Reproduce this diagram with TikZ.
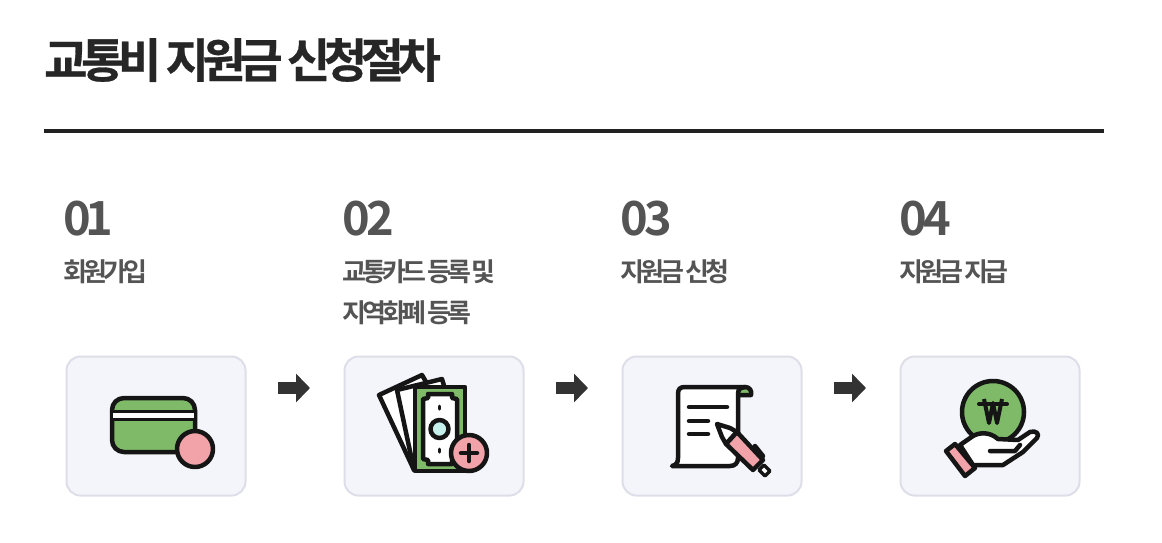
\documentclass[tikz,border=0pt]{standalone}
\usepackage{fontspec}
\usepackage{xcolor}
\usetikzlibrary{arrows.meta}
\newfontfamily\titlefont[LetterSpace=-13.5,FakeBold=0.6]{Noto Sans CJK KR Bold}
\newfontfamily\numfont[LetterSpace=-7]{Noto Sans CJK KR Bold}
\newfontfamily\labelfont[LetterSpace=-15,WordSpace=0.45]{Noto Sans CJK KR Bold}
\definecolor{cardgreen}{HTML}{7FBA68}
\definecolor{cardpink}{HTML}{F2A2A9}
\definecolor{boxfill}{HTML}{F4F5FB}
\definecolor{boxline}{HTML}{DDDEE8}
\definecolor{inkblack}{HTML}{151515}
\definecolor{coinmint}{HTML}{C5F0EC}
\tikzset{>=latex,
  stepbox/.style={draw=boxline, fill=boxfill, line width=2pt, rounded corners=14pt, minimum width=179pt, minimum height=139pt},
  stepnum/.style={anchor=west, inner sep=0pt, text=black!67, font=\numfont\fontsize{47}{47}\selectfont},
  steplabel/.style={anchor=west, inner sep=0pt, text=black!67, font=\labelfont\fontsize{26}{26}\selectfont},
  steparrow/.style={draw=black!80, line width=12pt, -{Triangle[length=14pt,width=28pt]}},
  ink/.style={draw=inkblack, line width=4.5pt, line join=round, line cap=round},
}
\begin{document}
\begin{tikzpicture}[x=1pt, y=-1pt]
    \useasboundingbox (0,0) rectangle (1162,542);

    \node[anchor=west, inner sep=0pt, text=black!85, font=\titlefont\fontsize{47}{47}\selectfont] at (44,60) (title) {교통비 지원금 신청절차};
    \coordinate (ruleL) at (44,131);
    \coordinate (ruleR) at (1104,131);
    \draw[black!87, line width=4pt] (ruleL) -- (ruleR);

    \node[stepnum] at (63,219) (numA) {0\kern-5pt 1};
    \node[stepnum] at (342,219) (numB) {02};
    \node[stepnum] at (620,219) (numC) {03};
    \node[stepnum] at (899,219) (numD) {04};

    \node[steplabel] at (63,272) (labA) {회원가입};
    \node[steplabel] at (342,272) (labB) {교통카드 등록 및};
    \node[steplabel] at (342,313) (labBb) {지역화폐 등록};
    \node[steplabel] at (620,272) (labC) {지원금 신청};
    \node[steplabel] at (899,272) (labD) {지원금 지급};

    \node[stepbox] at (156,426) (boxA) {};
    \node[stepbox] at (434,426) (boxB) {};
    \node[stepbox] at (712,426) (boxC) {};
    \node[stepbox] at (990,426) (boxD) {};

    \coordinate (arrAs) at (278,388); \coordinate (arrAe) at (310,388);
    \coordinate (arrBs) at (556,388); \coordinate (arrBe) at (588,388);
    \coordinate (arrCs) at (834,388); \coordinate (arrCe) at (866,388);
    \draw[steparrow] (arrAs) -- (arrAe);
    \draw[steparrow] (arrBs) -- (arrBe);
    \draw[steparrow] (arrCs) -- (arrCe);

    % card
    \draw[ink, fill=cardgreen, rounded corners=12pt] (112,398) rectangle (195,452);
    \fill[white] (113,412) rectangle (194,420);
    \draw[draw=inkblack, line width=3pt] (112,411.5) -- (195,411.5);
    \draw[draw=inkblack, line width=3pt] (112,419.5) -- (195,419.5);
    \draw[ink, fill=cardpink] (195,449) circle (18);

    % notes
    \draw[ink, fill=white] (379,395) -- (422,375) -- (460,440) -- (414,470) -- cycle;
    \draw[ink, fill=white] (397,390) -- (442,379) -- (460,440) -- (414,470) -- cycle;
    \draw[ink, fill=cardgreen] (415,387) rectangle (465,471);
    \draw[ink, fill=white] (428,394) -- (452,394) -- (452,398) -- (457,399) -- (457,459) -- (452,460) -- (452,464) -- (428,464) -- (428,460) -- (423,459) -- (423,399) -- (428,398) -- cycle;
    \draw[ink, fill=coinmint] (439.5,429) circle (9);
    \draw[ink, line width=3pt] (439.5,406) -- (439.5,409);
    \draw[ink, line width=3pt] (439.5,449) -- (439.5,452);
    \draw[ink, fill=cardpink] (469,453) circle (18);
    \draw[ink] (461,453) -- (477,453);
    \draw[ink] (469,445) -- (469,461);

    % paper and pen
    \draw[ink, fill=cardgreen] (740,388) -- (745,387) .. controls (750,387) and (752,391) .. (751,395) -- (738,395);
    \draw[ink, fill=white] (745,387) -- (685,387) .. controls (680,387) and (678,389) .. (678,394) -- (678,458) .. controls (678,463) and (676,465) .. (672,466) -- (730,466) .. controls (735,466) and (738,463) .. (738,458) -- (738,394) .. controls (738,390) and (740,387) .. (745,387);
    \draw[ink] (689,407) -- (727,407);
    \draw[ink] (689,421) -- (708,421);
    \draw[ink] (689,434) -- (708,434);
    \draw[ink] (755,446) -- (763,456) -- (758,461);
    \draw[ink, fill=white, line width=3.5pt] (764,465) -- (770,471) -- (765,476) -- (759,470) -- cycle;
    \draw[ink, fill=white] (717,424) -- (730,428) -- (737,432) -- (726,444) -- (722,437) -- cycle;
    \draw[ink, fill=cardpink] (737,432) -- (763,460) -- (753,470) -- (726,444) -- cycle;

    % coin and hand
    \draw[ink, fill=cardgreen] (993,412) circle (31);
    \draw[ink, line width=4pt, line cap=butt] (984,399) -- (989,423) -- (993,403) -- (997,423) -- (1002,399);
    \draw[ink, line width=4pt] (979,404) -- (1007,404);
    \draw[ink, fill=white] (960,445) -- (973,436) .. controls (980,432) and (990,432) .. (998,439) -- (1018,440) -- (1030,432) .. controls (1036,430) and (1040,434) .. (1037,438) -- (1023,452) -- (1003,465) -- (973,465) -- cycle;
    \draw[ink] (990,451) -- (1015,451) -- (1020,445);
    \draw[ink, fill=cardpink] (946,451) -- (955,444) -- (975,468) -- (965,476) -- cycle;
\end{tikzpicture}
\end{document}
